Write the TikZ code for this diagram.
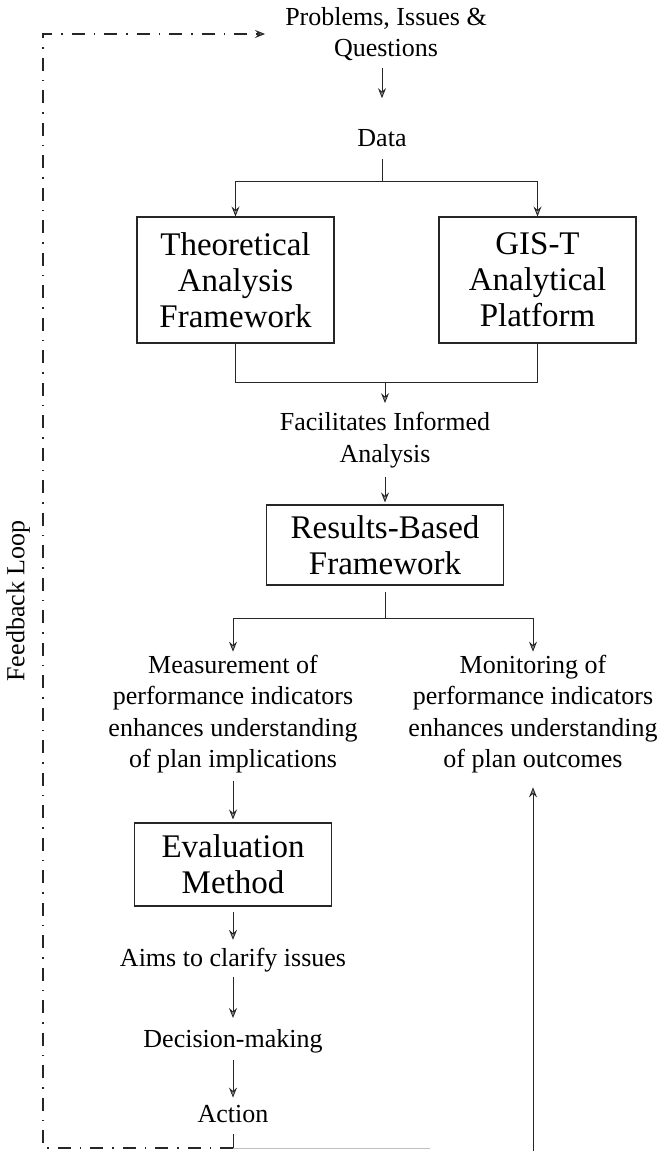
\documentclass[tikz,border=0pt]{standalone}
\usepackage{fontspec}
\setmainfont{Liberation Serif}
\usetikzlibrary{arrows.meta}
\begin{document}
\begin{tikzpicture}[x=1pt,y=-1pt,
  txt/.style={font=\fontsize{26}{31.5}\selectfont, align=center, inner sep=0pt},
  boxnode/.style={draw=black!85, line width=1.1pt, font=\fontsize{33}{36}\selectfont,
                  align=center, inner sep=0pt},
  link/.style={draw=black!85, line width=0.9pt},
  tip/.style={-{Stealth[length=10pt,width=8pt,inset=3.5pt,fill=black!40]}},
  arr/.style={link, tip},
  fb/.style={draw=black!85, line width=1.1pt,
             dash pattern=on 13pt off 9pt on 1.5pt off 9pt}]

\useasboundingbox (0,0) rectangle (659,1151);

% text and boxes
\node[txt] (probs) at (386,34) {Problems, Issues \&\\Questions};
\node[txt] (data) at (382,138) {Data};
\node[boxnode, minimum width=197pt, minimum height=126pt] (theory) at (235.5,280)
  {Theoretical\\Analysis\\Framework};
\node[boxnode, minimum width=197pt, minimum height=126pt] (gis) at (537.5,280)
  {GIS-T\\Analytical\\Platform};
\node[txt] (facil) at (385,440) {Facilitates Informed\\Analysis};
\node[boxnode, minimum width=237pt, minimum height=80pt] (results) at (385,545)
  {Results-Based\\Framework};
\node[txt] (meas) at (233,714)
  {Measurement of\\performance indicators\\enhances understanding\\of plan implications};
\node[txt] (monit) at (533,714)
  {Monitoring of\\performance indicators\\enhances understanding\\of plan outcomes};
\node[boxnode, minimum width=197pt, minimum height=83pt] (eval) at (233,864.5)
  {Evaluation\\Method};
\node[txt] (aims) at (233,960) {Aims to clarify issues};
\node[txt] (decide) at (233,1041) {Decision-making};
\node[txt] (action) at (233,1114.5) {Action};
\node[txt, rotate=90] (fblabel) at (18,601) {Feedback Loop};

% junction points
\coordinate (split1) at (382,181);
\coordinate (join1) at (385,382);
\coordinate (split2) at (385,618);
\coordinate (bl) at (233,1148);
\coordinate (fade) at (430,1148);
\coordinate (fbbot) at (43,1148);
\coordinate (fbtop) at (43,34);
\coordinate (mbot) at (533,1151);

% main flow
\draw[arr, shorten <=7pt, shorten >=31pt] (probs.south -| data) -- (data.north);
\draw[link, shorten <=12pt] (data.south) -- (split1);
\draw[arr] (split1) -| (theory.north);
\draw[arr] (split1) -| (gis.north);
\draw[link] (theory.south) |- (join1);
\draw[link] (gis.south) |- (join1);
\draw[arr, shorten >=9pt] (join1) -- (facil.north);
\draw[arr, shorten <=9pt, shorten >=2pt] (facil.south) -- (results.north);
\draw[link, shorten <=6pt] (results.south) -- (split2);
\draw[arr, shorten >=3pt] (split2) -| (meas.north);
\draw[arr, shorten >=3pt] (split2) -| (monit.north);
\draw[arr, shorten <=8pt, shorten >=3pt] (meas.south) -- (eval.north);
\draw[arr, shorten <=5pt, shorten >=8pt] (eval.south) -- (aims.north);
\draw[arr, shorten <=5pt, shorten >=11pt] (aims.south) -- (decide.north);
\draw[arr, shorten <=7pt, shorten >=8pt] (decide.south) -- (action.north);
\draw[link, shorten <=11pt] (action.south) -- (bl);
\draw[link, draw=black!25] (bl) -- (fade);

% monitoring return
\draw[arr, shorten >=14pt] (mbot) -- (monit.south);

% feedback loop
\draw[fb, tip, shorten >=20pt]
  (bl) -- (fbbot) -- (fbtop) -- (fbtop -| probs.west);
\end{tikzpicture}
\end{document}
